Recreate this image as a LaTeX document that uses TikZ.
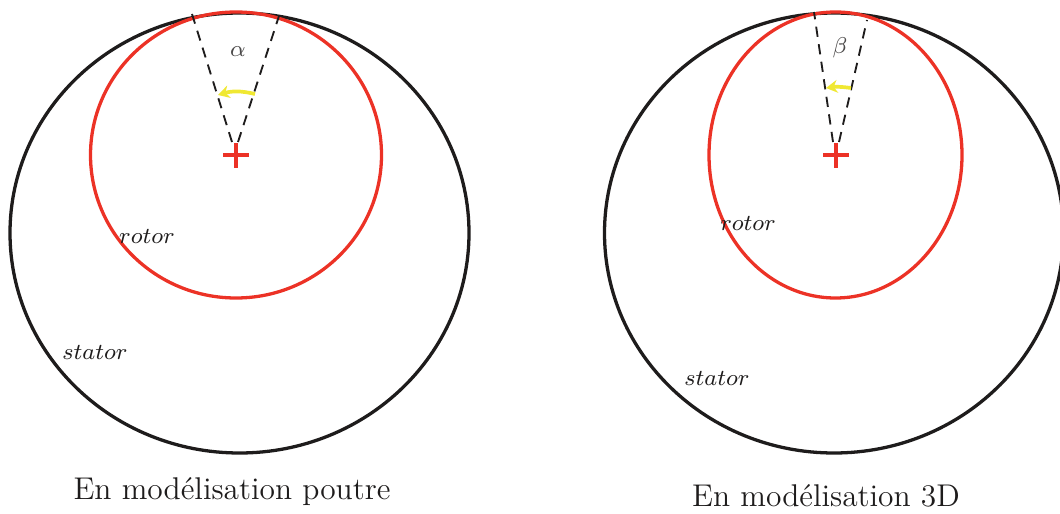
\documentclass[tikz,border=0pt]{standalone}
\usetikzlibrary{arrows.meta}
\definecolor{rred}{RGB}{236,50,38}
\definecolor{ayel}{RGB}{240,232,50}
\definecolor{sblack}{RGB}{30,28,28}
\begin{document}
\begin{tikzpicture}[x=0.35pt,y=-0.35pt,
  stator/.style={draw=sblack,line width=1.15pt},
  rotor/.style={draw=rred,line width=1.15pt},
  redcross/.style={draw=rred,line width=1.4pt},
  dline/.style={draw=sblack,dashed,dash pattern=on 3.6pt off 2.6pt,line width=0.65pt},
  yarrow/.style={draw=ayel,line width=1.3pt,-{Stealth[length=4pt,width=4.5pt]}},
  lab/.style={text=sblack,font=\footnotesize,inner sep=0pt},
  ang/.style={text=sblack!80,font=\footnotesize,inner sep=0pt},
  captext/.style={text=sblack,font=\fontsize{11}{13}\selectfont,inner sep=0pt}]
\useasboundingbox (0,0) rectangle (1060,514);
% left
\coordinate (sc1) at (239.5,233);
\coordinate (rc1) at (236,155);
\draw[stator] (sc1) ellipse [x radius=229.5, y radius=220];
\draw[rotor] (rc1) ellipse [x radius=145.5, y radius=143];
\coordinate (a1l) at (232,142);
\coordinate (a1r) at (238,142);
\coordinate (l1) at (192,14);
\coordinate (r1) at (279,16);
\draw[dline] (a1l) -- (l1);
\draw[dline] (a1r) -- (r1);
\draw[redcross] (223,155) -- (249,155) (236,143) -- (236,168);
\coordinate (y1s) at (255,94);
\coordinate (y1e) at (218,95);
\draw[yarrow] (y1s) to[bend right=15] (y1e);
\node[ang] (alpha) at (238,52) {$\alpha$};
\node[lab] (rotor1) at (147,236) {$rotor$};
\node[lab] (stator1) at (95,352) {$stator$};
\node[captext] (cap1) at (232,492) {En modélisation poutre};
% right
\coordinate (sc2) at (834,233);
\coordinate (rc2) at (835.5,155);
\draw[stator] (sc2) ellipse [x radius=229.5, y radius=220];
\draw[rotor] (rc2) ellipse [x radius=126.5, y radius=143];
\coordinate (a2l) at (833,142);
\coordinate (a2r) at (839,142);
\coordinate (l2) at (814,12);
\coordinate (r2) at (867,20);
\draw[dline] (a2l) -- (l2);
\draw[dline] (a2r) -- (r2);
\draw[redcross] (823,155) -- (849,155) (836,143) -- (836,168);
\coordinate (y2s) at (851,88);
\coordinate (y2e) at (826,88);
\draw[yarrow] (y2s) to[bend right=8] (y2e);
\node[ang] (beta) at (840,48) {$\beta$};
\node[lab] (rotor2) at (748,223) {$rotor$};
\node[lab] (stator2) at (717,378) {$stator$};
\node[captext] (cap2) at (826,496) {En modélisation 3D};
\end{tikzpicture}
\end{document}
